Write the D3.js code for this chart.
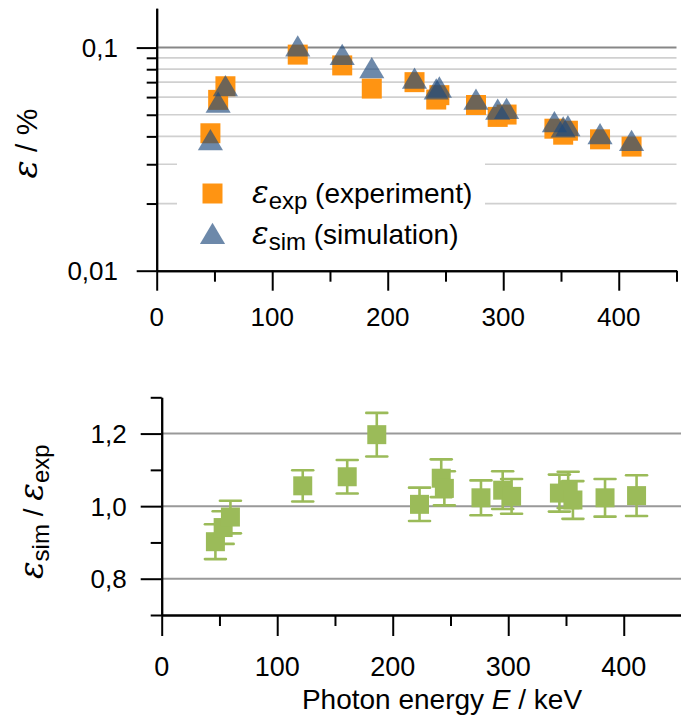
<!DOCTYPE html>
<html><head><meta charset="utf-8">
<script src="https://cdn.jsdelivr.net/npm/d3@7"></script>
<style>
html,body{margin:0;padding:0;background:#fff;}
text{font-family:"Liberation Sans",Arial,sans-serif;fill:#000;}
</style></head>
<body><svg id="c" width="681" height="728"></svg>
<script>
// ---- data ----
const energies = [46.5, 53.2, 59.5, 122.1, 160.6, 186.2, 223.2, 242.0, 244.7, 276.4, 295.2, 302.9, 344.3, 351.9, 356.0, 383.8, 411.1];
const effExp   = [0.0413, 0.0583, 0.0671, 0.0930, 0.0832, 0.0655, 0.0700, 0.0585, 0.0612, 0.0553, 0.0489, 0.0501, 0.0433, 0.0407, 0.0424, 0.0388, 0.0360];
const effSim   = [0.0373, 0.0549, 0.0651, 0.0982, 0.0899, 0.0784, 0.0704, 0.0630, 0.0642, 0.0566, 0.0511, 0.0515, 0.0449, 0.0425, 0.0431, 0.0397, 0.0370];
const ratio    = [0.902, 0.941, 0.970, 1.056, 1.081, 1.197, 1.005, 1.077, 1.049, 1.023, 1.044, 1.027, 1.036, 1.045, 1.017, 1.023, 1.029];
const ratioErr = [0.048, 0.045, 0.045, 0.043, 0.046, 0.060, 0.046, 0.052, 0.047, 0.048, 0.052, 0.048, 0.051, 0.050, 0.052, 0.052, 0.056];
const xMajorTicks = [0, 100, 200, 300, 400];
const xMinorTicks = [50, 150, 250, 350, 450];
const topMajorTicks = [0.01, 0.1];
const topMajorLabels = ["0,01", "0,1"];
const topMinorTicks = [0.02, 0.03, 0.04, 0.05, 0.06, 0.07, 0.08, 0.09];
const botMajorTicks = [0.8, 1.0, 1.2];
const botMajorLabels = ["0,8", "1,0", "1,2"];
const botMinorTicks = [0.7, 0.9, 1.1, 1.3];

const svg = d3.select("#c");
const orange = "#FF9412", blue = "#1F497D", green = "#9BBB59";

// ---- scales ----
const xT = d3.scaleLinear().domain([0, 450]).range([156.7, 676.5]);
const yT = d3.scaleLog().domain([0.01, 0.15]).range([270.7, 8.3]);
const xB = d3.scaleLinear().domain([0, 450]).range([161.7, 681.5]);
const yB = d3.scaleLinear().domain([0.7, 1.3]).range([615, 397.3]);

const triType = { draw(ctx, size) { const h = Math.sqrt(size), w = h * 1.18;
  ctx.moveTo(0, -2 * h / 3); ctx.lineTo(w / 2, h / 3); ctx.lineTo(-w / 2, h / 3); ctx.closePath(); } };

// ===== TOP CHART =====
const gT = svg.append("g");
gT.selectAll("line.gmin").data(topMinorTicks).join("line")
  .attr("x1", xT(0)).attr("x2", xT(450)).attr("y1", d => yT(d)).attr("y2", d => yT(d))
  .attr("stroke", "#d0d0d0").attr("stroke-width", 1.7);
gT.append("line").attr("x1", xT(0)).attr("x2", xT(450)).attr("y1", yT(0.1)).attr("y2", yT(0.1))
  .attr("stroke", "#878787").attr("stroke-width", 2);

// legend background
gT.append("rect").attr("x", 177).attr("y", 150).attr("width", 308).attr("height", 110).attr("fill", "#fff");

function styleAxis(g) { g.selectAll("path,line").attr("stroke", "#000").attr("stroke-width", 2); g.selectAll("text").remove(); }
gT.append("g").attr("transform", `translate(${xT(0)},0)`)
  .call(d3.axisLeft(yT).tickValues(topMinorTicks).tickSize(10).tickSizeOuter(0)).call(styleAxis);
gT.append("g").attr("transform", `translate(${xT(0)},0)`)
  .call(d3.axisLeft(yT).tickValues(topMajorTicks).tickSize(20).tickSizeOuter(0)).call(styleAxis);
gT.append("g").attr("transform", `translate(0,${yT(0.01)})`)
  .call(d3.axisBottom(xT).tickValues(xMinorTicks).tickSize(11).tickSizeOuter(0)).call(styleAxis);
gT.append("g").attr("transform", `translate(0,${yT(0.01)})`)
  .call(d3.axisBottom(xT).tickValues(xMajorTicks).tickSize(20).tickSizeOuter(0)).call(styleAxis);

gT.selectAll("text.yl").data(topMajorTicks).join("text")
  .attr("x", 118).attr("y", d => yT(d)).attr("dy", "0.36em").attr("text-anchor", "end")
  .attr("font-size", 26).text((d, i) => topMajorLabels[i]);
gT.selectAll("text.xl").data(xMajorTicks).join("text")
  .attr("x", d => xT(d)).attr("y", 325.5).attr("text-anchor", "middle")
  .attr("font-size", 26).text(d => d);

gT.selectAll("path.sq").data(energies).join("path")
  .attr("transform", (d, i) => `translate(${xT(d)},${yT(effExp[i])})`)
  .attr("d", d3.symbol(d3.symbolSquare, 400)).attr("fill", orange);
gT.selectAll("path.tr").data(energies).join("path")
  .attr("transform", (d, i) => `translate(${xT(d)},${yT(effSim[i])})`)
  .attr("d", d3.symbol(triType, 454)).attr("fill", blue).attr("fill-opacity", 0.65);

// legend
gT.append("path").attr("transform", "translate(212.5,193.5)")
  .attr("d", d3.symbol(d3.symbolSquare, 400)).attr("fill", orange);
gT.append("path").attr("transform", "translate(212.5,237)")
  .attr("d", d3.symbol(triType, 454)).attr("fill", blue).attr("fill-opacity", 0.65);
function legText(y, sub, rest) {
  const t = gT.append("text").attr("x", 252).attr("y", y).attr("font-size", 28);
  t.append("tspan").attr("font-family", "DejaVu Serif").attr("font-style", "italic").attr("font-size", 31).text("ε");
  t.append("tspan").attr("font-size", 24).attr("dy", 6).text(sub);
  t.append("tspan").attr("dy", -6).text(" " + rest);
}
legText(203.3, "exp", "(experiment)");
legText(243.5, "sim", "(simulation)");

const ytT = gT.append("text").attr("transform", "translate(37,143.5) rotate(-90)")
  .attr("text-anchor", "middle").attr("font-size", 30);
ytT.append("tspan").attr("font-family", "DejaVu Serif").attr("font-style", "italic").attr("font-size", 34).text("ε");
ytT.append("tspan").text(" / %");

// ===== BOTTOM CHART =====
const gB = svg.append("g");
gB.selectAll("line.gb").data(botMajorTicks).join("line")
  .attr("x1", xB(0)).attr("x2", xB(450)).attr("y1", d => yB(d)).attr("y2", d => yB(d))
  .attr("stroke", "#999").attr("stroke-width", 2);

gB.append("g").attr("transform", `translate(${xB(0)},0)`)
  .call(d3.axisLeft(yB).tickValues(botMinorTicks).tickSize(11).tickSizeOuter(0)).call(styleAxis);
gB.append("g").attr("transform", `translate(${xB(0)},0)`)
  .call(d3.axisLeft(yB).tickValues(botMajorTicks).tickSize(21).tickSizeOuter(0)).call(styleAxis);
gB.append("g").attr("transform", `translate(0,${yB(0.7)})`)
  .call(d3.axisBottom(xB).tickValues(xMinorTicks).tickSize(11).tickSizeOuter(0)).call(styleAxis);
gB.append("g").attr("transform", `translate(0,${yB(0.7)})`)
  .call(d3.axisBottom(xB).tickValues(xMajorTicks).tickSize(21).tickSizeOuter(0)).call(styleAxis);

gB.selectAll("text.yl").data(botMajorTicks).join("text")
  .attr("x", 126.7).attr("y", d => yB(d)).attr("dy", "0.36em").attr("text-anchor", "end")
  .attr("font-size", 26).text((d, i) => botMajorLabels[i]);
gB.selectAll("text.xl").data(xMajorTicks).join("text")
  .attr("x", d => xB(d)).attr("y", 675.5).attr("text-anchor", "middle")
  .attr("font-size", 27).text(d => d);

const eb = gB.selectAll("g.eb").data(energies).join("g");
eb.append("line").attr("x1", d => xB(d)).attr("x2", d => xB(d))
  .attr("y1", (d, i) => yB(ratio[i] - ratioErr[i])).attr("y2", (d, i) => yB(ratio[i] + ratioErr[i]))
  .attr("stroke", green).attr("stroke-width", 2.6);
[-1, 1].forEach(s => {
  eb.append("line").attr("x1", d => xB(d) - 10.5).attr("x2", d => xB(d) + 10.5)
    .attr("y1", (d, i) => yB(ratio[i] + s * ratioErr[i])).attr("y2", (d, i) => yB(ratio[i] + s * ratioErr[i]))
    .attr("stroke", green).attr("stroke-width", 2.6).attr("stroke-linecap", "round");
});
gB.selectAll("path.gs").data(energies).join("path")
  .attr("transform", (d, i) => `translate(${xB(d)},${yB(ratio[i])})`)
  .attr("d", d3.symbol(d3.symbolSquare, 361)).attr("fill", green);

const ytB = gB.append("text").attr("transform", "translate(43,511.7) rotate(-90)")
  .attr("text-anchor", "middle").attr("font-size", 28);
ytB.append("tspan").attr("font-family", "DejaVu Serif").attr("font-style", "italic").attr("font-size", 33).text("ε");
ytB.append("tspan").attr("font-size", 24).attr("dy", 6).text("sim");
ytB.append("tspan").attr("dy", -6).text(" / ");
ytB.append("tspan").attr("font-family", "DejaVu Serif").attr("font-style", "italic").attr("font-size", 33).text("ε");
ytB.append("tspan").attr("font-size", 24).attr("dy", 6).text("exp");

const xt = svg.append("text").attr("x", 442).attr("y", 709).attr("text-anchor", "middle").attr("font-size", 28);
xt.append("tspan").text("Photon energy ");
xt.append("tspan").attr("font-style", "italic").text("E");
xt.append("tspan").text(" / keV");
</script></body></html>
